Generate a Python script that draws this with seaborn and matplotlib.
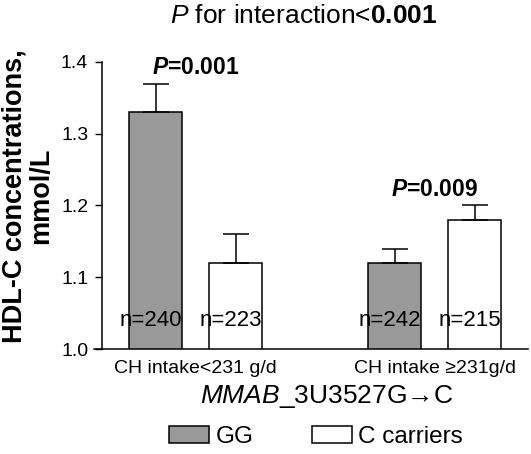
import matplotlib
matplotlib.use("Agg")
import matplotlib.pyplot as plt
import seaborn as sns
import pandas as pd
import numpy as np

# data
intake = ["CH intake<231 g/d", "CH intake \u2265231g/d"]
genotype = ["GG", "C carriers"]
gg_mean = [1.33, 1.12]
gg_se = [0.04, 0.02]
gg_n = [240, 242]
c_mean = [1.12, 1.18]
c_se = [0.04, 0.02]
c_n = [223, 215]
p_text = ["=0.001", "=0.009"]
y_ticks = [1.0, 1.1, 1.2, 1.3, 1.4]

sns.set_theme(style="ticks")
plt.rcParams['font.family'] = ['Liberation Sans', 'DejaVu Sans']
plt.rcParams['text.color'] = 'black'
plt.rcParams['xtick.color'] = 'black'
plt.rcParams['ytick.color'] = 'black'
plt.rcParams['mathtext.fontset'] = 'custom'
plt.rcParams['mathtext.it'] = 'Liberation Sans:italic'
plt.rcParams['mathtext.bf'] = 'Liberation Sans:bold'
plt.rcParams['mathtext.bfit'] = 'Liberation Sans:bold:italic'
plt.rcParams['mathtext.rm'] = 'Liberation Sans'

df = pd.DataFrame({
    "intake": intake * 2,
    "genotype": [genotype[0]] * 2 + [genotype[1]] * 2,
    "hdl": gg_mean + c_mean,
    "se": gg_se + c_se,
    "n": gg_n + c_n,
})

fig = plt.figure(figsize=(5.31, 4.54), dpi=100)
ax = fig.add_axes([94 / 531, 105 / 454, 434 / 531, 287 / 454])

sns.barplot(data=df, x="intake", y="hdl", hue="genotype", order=intake, hue_order=genotype,
            palette={"GG": "#999999", "C carriers": "white"}, edgecolor="black", linewidth=1.1,
            width=0.669, gap=0.337, errorbar=None, legend=False, ax=ax)

# one-sided error bars and n labels, patches come in hue order then category order
for patch, se, n in zip(ax.patches, df["se"], df["n"]):
    xc = patch.get_x() + patch.get_width() / 2
    h = patch.get_height()
    ax.errorbar(xc, h, yerr=[[0], [se]], fmt="none", ecolor="black", elinewidth=1.1,
                capsize=9.5, capthick=1.1, zorder=3)
    ax.text(xc - 0.02, 1.04, f"n={n}", ha="center", va="center", fontsize=16, zorder=4)

tops = np.maximum(np.array(gg_mean) + np.array(gg_se), np.array(c_mean) + np.array(c_se))
for i, p in enumerate(p_text):
    ax.text(i, tops[i] + 0.022, r"$\mathbfit{P}$" + p, ha="center", va="center",
            fontsize=16.5, fontweight="bold")

ax.set_ylim(1.0, 1.4)
ax.set_xlim(-0.425, 1.391)
ax.set_yticks(y_ticks)
ax.set_yticklabels([f"{v:.1f}" for v in y_ticks])
ax.tick_params(axis="y", length=5, width=1, pad=5, color="black", labelsize=14)
ax.tick_params(axis="x", length=0, pad=8, labelsize=14)
ax.spines["left"].set_position(("data", -0.391))
for s in ["left", "bottom"]:
    ax.spines[s].set_color("black")
    ax.spines[s].set_linewidth(1.1)
sns.despine(ax=ax)
ax.set_xlabel("")
ax.set_ylabel("")

fig.text(28 / 531, 1 - 196 / 454, "HDL-C concentrations,\nmmol/L", rotation=90, ha="center",
         va="center", multialignment="center", fontsize=19.5, fontweight="bold",
         linespacing=1.0)
fig.text(304 / 531, 1 - 16 / 454, r"$\mathit{P}$ for interaction<$\mathbf{0.001}$",
         ha="center", va="center", fontsize=19)
fig.text(327 / 531, 1 - 396 / 454, r"$\mathit{MMAB}$_3U3527G" + "\u2192C", ha="center",
         va="center", fontsize=19)

handles = [plt.Rectangle((0, 0), 1, 1, facecolor="#999999", edgecolor="black", linewidth=1.1),
           plt.Rectangle((0, 0), 1, 1, facecolor="white", edgecolor="black", linewidth=1.1)]
fig.legend(handles, genotype, loc="center", bbox_to_anchor=(316 / 531, 1 - 437 / 454),
           ncol=2, frameon=False, fontsize=17.5, handlelength=1.65, handleheight=0.65,
           handletextpad=0.25, columnspacing=2.4, borderpad=0)

fig.savefig("out.png", dpi=100)
